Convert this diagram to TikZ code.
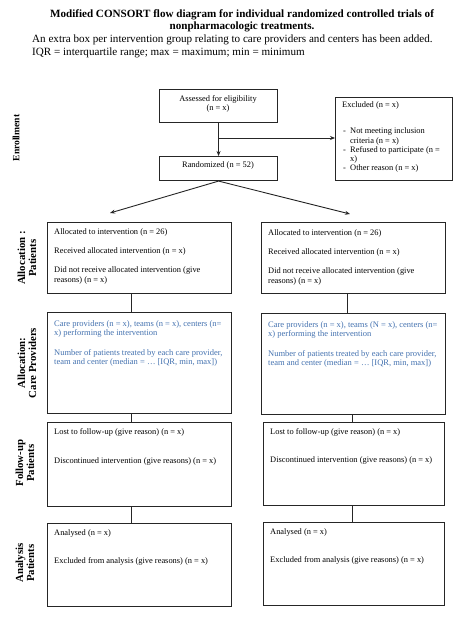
\documentclass[tikz,border=0pt]{standalone}
\usepackage{fontspec}
\setmainfont{Liberation Serif}
\usetikzlibrary{arrows.meta}
\definecolor{provblue}{RGB}{68,114,176}
\begin{document}
\begin{tikzpicture}[x=1pt,y=-1pt,
  box/.style={draw=black!85,line width=1.1pt,anchor=north west,inner sep=0pt},
  txt/.style={anchor=base west,inner sep=0pt,font=\fontsize{8.4}{10}\selectfont},
  btxt/.style={txt,text=provblue,font=\fontsize{8.5}{10}\selectfont},
  ctxt/.style={anchor=base,inner sep=0pt,font=\fontsize{8.4}{10}\selectfont},
  side/.style={rotate=90,align=center,inner sep=0pt,font=\fontsize{10.8}{11}\selectfont\bfseries},
  conn/.style={draw=black!85,line width=0.9pt},
  arr/.style={conn,-{Stealth[length=5pt,width=4pt]}}]
\useasboundingbox (0,0) rectangle (474,620);
\fill[white] (0,0) rectangle (474,620);
% title
\node[inner sep=0pt,font=\fontsize{11.1}{12}\selectfont\bfseries,anchor=base] (title1) at (242,18) {Modified CONSORT flow diagram for individual randomized controlled trials of};
\node[inner sep=0pt,font=\fontsize{11.1}{12}\selectfont\bfseries,anchor=base] (title2) at (242,29.5) {nonpharmacologic treatments.};
\node[inner sep=0pt,anchor=base west,font=\fontsize{11.1}{12}\selectfont] (sub1) at (32,43) {An extra box per intervention group relating to care providers and centers has been added.};
\node[inner sep=0pt,anchor=base west,font=\fontsize{11.1}{12}\selectfont] (sub2) at (32,56) {IQR = interquartile range; max = maximum; min = minimum};
% enrollment
\node[box,minimum width=118pt,minimum height=33pt] (ass) at (159,89) {};
\node[ctxt] (asst1) at (218,102) {Assessed for eligibility};
\node[ctxt] (asst2) at (218,111) {(n = x)};
\node[box,minimum width=118pt,minimum height=24pt] (rand) at (159,156) {};
\node[ctxt] (randt) at (218,168) {Randomized (n = 52)};
\node[box,minimum width=117pt,minimum height=83pt] (excl) at (335,97) {};
\node[txt] (ex0) at (342,108) {Excluded (n = x)};
\node[txt] (exd1) at (343,134) {-};
\node[txt] (ex1) at (350,134) {Not meeting inclusion};
\node[txt] (ex1b) at (350,144) {criteria (n = x)};
\node[txt] (exd2) at (343,153) {-};
\node[txt] (ex2) at (350,153) {Refused to participate (n =};
\node[txt] (ex2b) at (350,161.5) {x)};
\node[txt] (exd3) at (343,171) {-};
\node[txt] (ex3) at (350,171) {Other reason (n = x)};
\draw[arr] (ass.south) -- (rand.north);
\coordinate (br) at (218,138);
\draw[arr] (br) -- (br -| excl.west);
% split
\coordinate (tipL) at (110,213);
\coordinate (tipR) at (350,214);
\draw[arr] (rand.south) -- (tipL);
\draw[arr] (rand.south) -- (tipR);
% allocation patients
\node[box,minimum width=184pt,minimum height=71pt] (alL) at (47,222) {};
\node[box,minimum width=184pt,minimum height=71pt] (alR) at (261,222) {};
\node[txt] (alL1) at (54,234) {Allocated to intervention (n = 26)};
\node[txt] (alL2) at (54,253) {Received allocated intervention (n = x)};
\node[txt] (alL3) at (54,272) {Did not receive allocated intervention (give};
\node[txt] (alL4) at (54,282) {reasons) (n = x)};
\node[txt] (alR1) at (268,235) {Allocated to intervention (n = 26)};
\node[txt] (alR2) at (268,254) {Received allocated intervention (n = x)};
\node[txt] (alR3) at (268,273) {Did not receive allocated intervention (give};
\node[txt] (alR4) at (268,283) {reasons) (n = x)};
% care providers
\node[box,minimum width=184pt,minimum height=101pt] (cpL) at (47,312) {};
\node[box,minimum width=184pt,minimum height=101pt] (cpR) at (261,313) {};
\node[btxt] (cpL1) at (54,326) {Care providers (n = x), teams (n = x), centers (n=};
\node[btxt] (cpL2) at (54,335) {x) performing the intervention};
\node[btxt] (cpL3) at (54,355) {Number of patients treated by each care provider,};
\node[btxt] (cpL4) at (54,364) {team and center (median = … [IQR, min, max])};
\node[btxt] (cpR1) at (268,327) {Care providers (n = x), teams (N = x), centers (n=};
\node[btxt] (cpR2) at (268,336) {x) performing the intervention};
\node[btxt] (cpR3) at (268,356) {Number of patients treated by each care provider,};
\node[btxt] (cpR4) at (268,365) {team and center (median = … [IQR, min, max])};
% follow-up
\node[box,minimum width=184pt,minimum height=84pt] (fuL) at (47,422) {};
\node[box,minimum width=181pt,minimum height=83pt] (fuR) at (263,422) {};
\node[txt] (fuL1) at (54,434) {Lost to follow-up (give reason) (n = x)};
\node[txt] (fuL2) at (54,463) {Discontinued intervention (give reasons) (n = x)};
\node[txt] (fuR1) at (270,434) {Lost to follow-up (give reason) (n = x)};
\node[txt] (fuR2) at (270,462) {Discontinued intervention (give reasons) (n = x)};
% analysis
\node[box,minimum width=184pt,minimum height=83pt] (anL) at (47,523) {};
\node[box,minimum width=181pt,minimum height=83pt] (anR) at (263,522) {};
\node[txt] (anL1) at (54,535) {Analysed (n = x)};
\node[txt] (anL2) at (54,563) {Excluded from analysis (give reasons) (n = x)};
\node[txt] (anR1) at (270,534) {Analysed (n = x)};
\node[txt] (anR2) at (270,562) {Excluded from analysis (give reasons) (n = x)};
% vertical connectors
\coordinate (cxL) at (131,0);
\coordinate (cxR1) at (347,0);
\coordinate (cxR2) at (352,0);
\draw[conn] (alL.south -| cxL) -- (cpL.north -| cxL);
\draw[conn] (cpL.south -| cxL) -- (fuL.north -| cxL);
\draw[conn] (fuL.south -| cxL) -- (anL.north -| cxL);
\draw[conn] (alR.south -| cxR1) -- (cpR.north -| cxR1);
\draw[conn] (cpR.south -| cxR2) -- (fuR.north -| cxR2);
\draw[conn] (fuR.south -| cxR2) -- (anR.north -| cxR2);
% side labels
\node[side,font=\fontsize{9.6}{10}\selectfont\bfseries] (lenr) at (16,138) {Enrollment};
\node[side] (lalp) at (27,258) {Allocation :\\Patients};
\node[side] (lalc) at (27,363) {Allocation:\\Care Providers};
\node[side] (lfu) at (25,463) {Follow-up\\Patients};
\node[side] (lan) at (25,563) {Analysis\\Patients};
\end{tikzpicture}
\end{document}
